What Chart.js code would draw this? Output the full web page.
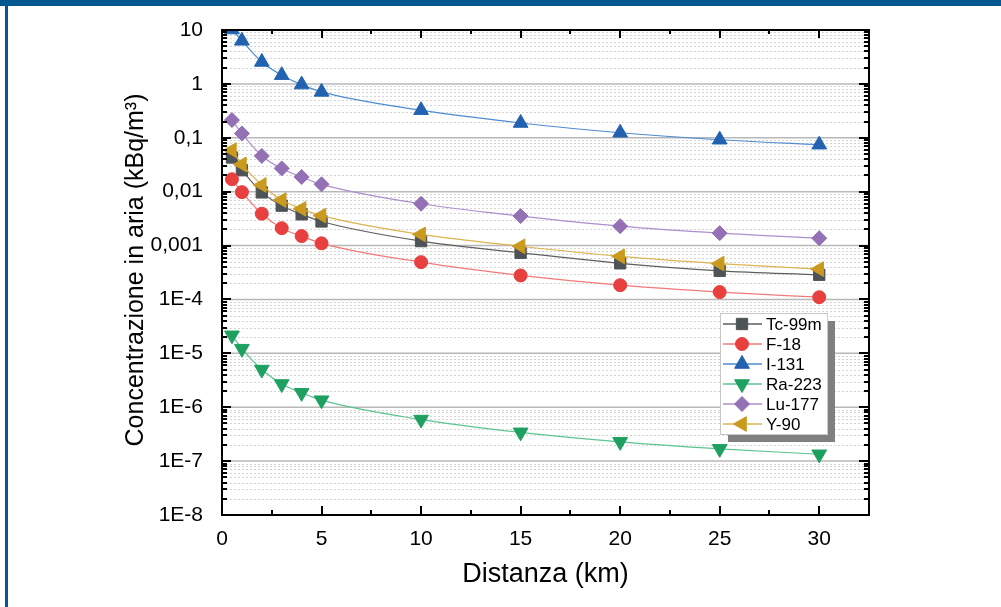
<!DOCTYPE html>
<html>
<head>
<meta charset="utf-8">
<script src="https://cdn.jsdelivr.net/npm/chart.js@4.4.0/dist/chart.umd.min.js"></script>
<style>
  body { margin: 0; background: #fff; }
  #wrap { width: 1001px; height: 607px; }
</style>
</head>
<body>
<div id="wrap"><canvas id="myChart" width="1001" height="607"></canvas></div>
<script>
const distanza = [0.5, 1, 2, 3, 4, 5, 10, 15, 20, 25, 30];
const tc99m = [0.043, 0.025, 0.0097, 0.0055, 0.0038, 0.0028, 0.00121, 0.000734, 0.000468, 0.00034, 0.000287];
const f18 = [0.017, 0.0098, 0.0039, 0.0021, 0.0015, 0.0011, 0.000492, 0.000279, 0.000184, 0.000137, 0.00011];
const i131 = [10.2, 6.3, 2.55, 1.45, 0.97, 0.71, 0.325, 0.188, 0.124, 0.092, 0.0744];
const ra223 = [2.16e-5, 1.22e-5, 5.0e-6, 2.7e-6, 1.85e-6, 1.35e-6, 5.9e-7, 3.42e-7, 2.28e-7, 1.69e-7, 1.34e-7];
const lu177 = [0.213, 0.12, 0.046, 0.027, 0.0187, 0.0137, 0.00596, 0.00352, 0.00229, 0.0017, 0.00137];
const y90 = [0.059, 0.032, 0.0133, 0.0070, 0.0048, 0.0036, 0.00161, 0.00097, 0.00063, 0.000462, 0.000366];

const xTicks = [0, 5, 10, 15, 20, 25, 30];
const yTicks = [10, 1, 0.1, 0.01, 0.001, 1e-4, 1e-5, 1e-6, 1e-7, 1e-8];
const yTickLabels = ['10', '1', '0,1', '0,01', '0,001', '1E-4', '1E-5', '1E-6', '1E-7', '1E-8'];

const FONT = "'Liberation Sans', Arial, sans-serif";

function serie(label, values, marker, line, style, radius, rotation, order) {
    return {
        label: label,
        data: distanza.map((d, i) => ({x: d, y: values[i]})),
        borderColor: line,
        borderWidth: 1.2,
        backgroundColor: marker,
        pointBackgroundColor: marker,
        pointBorderColor: marker,
        pointBorderWidth: 1,
        pointStyle: style,
        pointRadius: radius,
        pointRotation: rotation,
        cubicInterpolationMode: 'monotone',
        fill: false,
        clip: 0,
        order: order
    };
}

const datasets = [
    serie('Tc-99m', tc99m, '#4d5357', '#5e5e5e', 'rect', 8, 0, 6),
    serie('F-18', f18, '#e8403f', '#f07a7a', 'circle', 6.5, 0, 5),
    serie('I-131', i131, '#2262b0', '#4f8bd0', 'triangle', 8.5, 0, 4),
    serie('Ra-223', ra223, '#1ea060', '#5cc490', 'triangle', 8.5, 180, 3),
    serie('Lu-177', lu177, '#9470b5', '#ad8fcc', 'rectRot', 7.5, 0, 2),
    serie('Y-90', y90, '#c99a1e', '#dcb450', 'triangle', 8.5, -90, 1)
];

// grid, frame, ticks, titles and legend
const decor = {
    id: 'decor',
    beforeDraw(chart) {
        const ctx = chart.ctx;
        ctx.save();
        ctx.fillStyle = '#fff';
        ctx.fillRect(0, 0, chart.width, chart.height);
        ctx.fillStyle = '#03588f';
        ctx.fillRect(0, 0, chart.width, 6);
        ctx.fillRect(5, 0, 3, chart.height);
        ctx.restore();
    },
    beforeDatasetsDraw(chart) {
        const ctx = chart.ctx, a = chart.chartArea, y = chart.scales.y;
        ctx.save();
        ctx.lineWidth = 1;
        ctx.strokeStyle = '#d4d4d4';
        ctx.setLineDash([2, 2]);
        for (let e = -8; e < 1; e++) {
            for (let m = 2; m <= 9; m++) {
                const py = Math.round(y.getPixelForValue(m * Math.pow(10, e))) + 0.5;
                ctx.beginPath(); ctx.moveTo(a.left, py); ctx.lineTo(a.right, py); ctx.stroke();
            }
        }
        ctx.setLineDash([]);
        ctx.strokeStyle = '#b8b8b8';
        ctx.lineWidth = 1.5;
        yTicks.slice(1, -1).forEach(v => {
            const py = y.getPixelForValue(v);
            ctx.beginPath(); ctx.moveTo(a.left, py); ctx.lineTo(a.right, py); ctx.stroke();
        });
        ctx.restore();
    },
    afterDatasetsDraw(chart) {
        const ctx = chart.ctx, a = chart.chartArea, x = chart.scales.x, y = chart.scales.y;
        ctx.save();
        ctx.strokeStyle = '#000';
        ctx.lineWidth = 2;
        // ticks on the y axes
        for (let e = -8; e <= 1; e++) {
            for (let m = 1; m <= 9; m++) {
                const v = m * Math.pow(10, e);
                if (v > 10.0001) break;
                const py = Math.round(y.getPixelForValue(v));
                const major = m === 1;
                ctx.beginPath();
                ctx.moveTo(a.left, py); ctx.lineTo(a.left + (major ? 9 : 5), py);
                ctx.moveTo(a.right, py); ctx.lineTo(a.right - (major ? 10 : 5), py);
                ctx.stroke();
            }
        }
        // ticks on the x axes
        for (let v = 0; v <= 32.5; v += 2.5) {
            const px = Math.round(x.getPixelForValue(v));
            const major = v % 5 === 0;
            ctx.beginPath();
            ctx.moveTo(px, a.bottom); ctx.lineTo(px, a.bottom - (major ? 9 : 5));
            ctx.moveTo(px, a.top); ctx.lineTo(px, a.top + (major ? 8 : 4));
            ctx.stroke();
        }
        ctx.strokeRect(a.left, a.top, a.right - a.left, a.bottom - a.top);

        // axis titles
        ctx.fillStyle = '#000';
        ctx.font = '27px ' + FONT;
        ctx.textAlign = 'center';
        ctx.textBaseline = 'alphabetic';
        ctx.fillText('Distanza (km)', (a.left + a.right) / 2, 582);
        ctx.translate(143, 270);
        ctx.rotate(-Math.PI / 2);
        ctx.font = '25px ' + FONT;
        ctx.fillText('Concentrazione in aria (kBq/m³)', 0, 0);
        ctx.setTransform(1, 0, 0, 1, 0, 0);

        // legend
        const lx = 720, ly = 313, lw = 107, lh = 121;
        ctx.fillStyle = '#808080';
        ctx.fillRect(lx + 8, ly + 8, lw, lh);
        ctx.fillStyle = '#fff';
        ctx.fillRect(lx, ly, lw, lh);
        ctx.strokeStyle = '#c8c8c8';
        ctx.lineWidth = 1;
        ctx.strokeRect(lx + 0.5, ly + 0.5, lw, lh);
        ctx.font = '17px ' + FONT;
        ctx.textAlign = 'left';
        ctx.textBaseline = 'middle';
        datasets.forEach((ds, i) => {
            const ry = 324 + i * 20;
            ctx.strokeStyle = ds.borderColor;
            ctx.lineWidth = 1.5;
            ctx.beginPath(); ctx.moveTo(723, ry); ctx.lineTo(762, ry); ctx.stroke();
            ctx.fillStyle = ds.pointBackgroundColor;
            ctx.strokeStyle = ds.pointBorderColor;
            ctx.lineWidth = 1;
            Chart.helpers.drawPoint(ctx, {pointStyle: ds.pointStyle, radius: ds.pointRadius, rotation: ds.pointRotation, borderWidth: 1}, 742, ry);
            ctx.fillStyle = '#000';
            ctx.fillText(ds.label, 766, ry + 1);
        });
        ctx.restore();
    }
};

let myChart = document.getElementById('myChart').getContext('2d');

let concChart = new Chart(myChart, {
    type: 'line',
    data: { datasets: datasets },
    options: {
        responsive: false,
        animation: false,
        devicePixelRatio: 1,
        layout: { padding: { left: 0, top: 30, right: 132, bottom: 0 } },
        plugins: { legend: { display: false }, tooltip: { enabled: false } },
        scales: {
            x: {
                type: 'linear',
                min: 0,
                max: 32.5,
                afterBuildTicks: s => { s.ticks = xTicks.map(v => ({value: v})); },
                afterFit: s => { s.height = 92; },
                grid: { display: false },
                border: { display: false },
                ticks: { color: '#000', font: { family: FONT, size: 21 }, padding: 4, maxRotation: 0, autoSkip: false }
            },
            y: {
                type: 'logarithmic',
                min: 1e-8,
                max: 10,
                afterBuildTicks: s => { s.ticks = yTicks.map(v => ({value: v})); },
                afterFit: s => { s.width = 222; },
                grid: { display: false },
                border: { display: false },
                ticks: {
                    color: '#000',
                    font: { family: FONT, size: 21 },
                    padding: 11,
                    autoSkip: false,
                    callback: (v, i) => yTickLabels[i]
                }
            }
        }
    },
    plugins: [decor]
});
</script>
</body>
</html>
